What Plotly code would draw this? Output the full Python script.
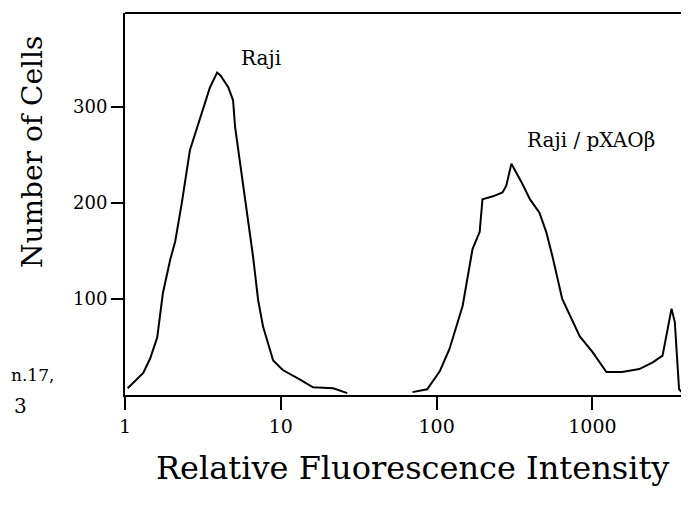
import plotly.graph_objects as go

# ---- data ----
raji_x = [1.04, 1.15, 1.31, 1.45, 1.61, 1.75, 1.95, 2.1, 2.32, 2.61, 2.9, 3.17, 3.5, 3.9, 4.1, 4.59, 4.94, 5.09, 5.73, 6.64, 7.15, 7.7, 8.93, 10.3, 13.3, 16.1, 21.7, 26.7]
raji_y = [7, 14, 23, 38, 60, 106, 141, 160, 201, 255, 279, 300, 320, 336, 333, 321, 307, 279, 217, 144, 99, 71, 36, 26, 16, 8, 7, 2]

pxao_x = [70, 87, 105, 121, 147, 170, 189, 197, 230, 265, 280, 302, 350, 397, 457, 505, 553, 640, 830, 1000, 1230, 1550, 2000, 2440, 2820, 3020, 3220, 3380, 3600, 3900]
pxao_y = [3, 6, 25, 48, 93, 152, 170, 204, 207, 211, 218, 241, 222, 204, 190, 170, 145, 100, 61, 45, 24, 24, 27, 34, 41, 66, 90, 76, 6, 0]

x_tickvals = [1, 10, 100, 1000]
x_ticktext = ["1", "10", "100", "1000"]
y_tickvals = [100, 200, 300]
y_ticktext = ["100", "200", "300"]

FONT = "DejaVu Serif"

fig = go.Figure()
line_style = dict(color="black", width=2)
fig.add_trace(go.Scatter(x=raji_x, y=raji_y, mode="lines", line=line_style, name="Raji"))
fig.add_trace(go.Scatter(x=pxao_x, y=pxao_y, mode="lines", line=line_style, name="Raji / pXAOβ"))

# the page body has an 8px default margin, so the figure is sized to fit the window
fig.update_layout(
    width=681, height=501,
    margin=dict(l=117, r=0, t=5, b=114, autoexpand=False),
    paper_bgcolor="white", plot_bgcolor="white",
    showlegend=False,
    font=dict(family=FONT, color="black"),
    xaxis=dict(type="log", range=[0, 3.62], tickvals=x_tickvals, ticktext=x_ticktext,
               ticks="outside", ticklen=13, tickwidth=2, tickcolor="black",
               showline=True, linewidth=2, linecolor="black",
               showgrid=False, zeroline=False,
               tickfont=dict(family=FONT, size=19, color="black")),
    yaxis=dict(range=[0, 398], tickvals=y_tickvals, ticktext=y_ticktext,
               ticks="outside", ticklen=12, tickwidth=2, tickcolor="black",
               showline=True, linewidth=2, linecolor="black",
               showgrid=False, zeroline=False,
               tickfont=dict(family=FONT, size=18, color="black")),
)

# top frame line
fig.add_shape(type="line", xref="paper", yref="paper", x0=0, x1=1, y0=1, y1=1,
              line=dict(color="black", width=2))

fig.add_annotation(text="Number of Cells", xref="paper", yref="paper",
                   x=-0.165, y=0.636, textangle=-90, showarrow=False,
                   xanchor="center", yanchor="middle",
                   font=dict(family=FONT, size=28, color="black"))
fig.add_annotation(text="Relative Fluorescence Intensity", xref="paper", yref="paper",
                   x=0.509, y=-0.19, showarrow=False, xanchor="center", yanchor="middle",
                   font=dict(family=FONT, size=32, color="black"))
fig.add_annotation(text="Raji", x=0.873, y=351, xref="x", yref="y", showarrow=False,
                   font=dict(family=FONT, size=20, color="black"))
fig.add_annotation(text="Raji / pXAOβ", x=2.99, y=266, xref="x", yref="y", showarrow=False,
                   font=dict(family=FONT, size=20, color="black"))
# handwritten margin note
fig.add_annotation(text="n.17,", xref="paper", yref="paper", x=-0.205, y=0.02,
                   xanchor="left", showarrow=False,
                   font=dict(family=FONT, size=17, color="black"))
fig.add_annotation(text="3", xref="paper", yref="paper", x=-0.2, y=-0.065,
                   xanchor="left", showarrow=False,
                   font=dict(family=FONT, size=20, color="black"))

fig.write_html("out.html")
